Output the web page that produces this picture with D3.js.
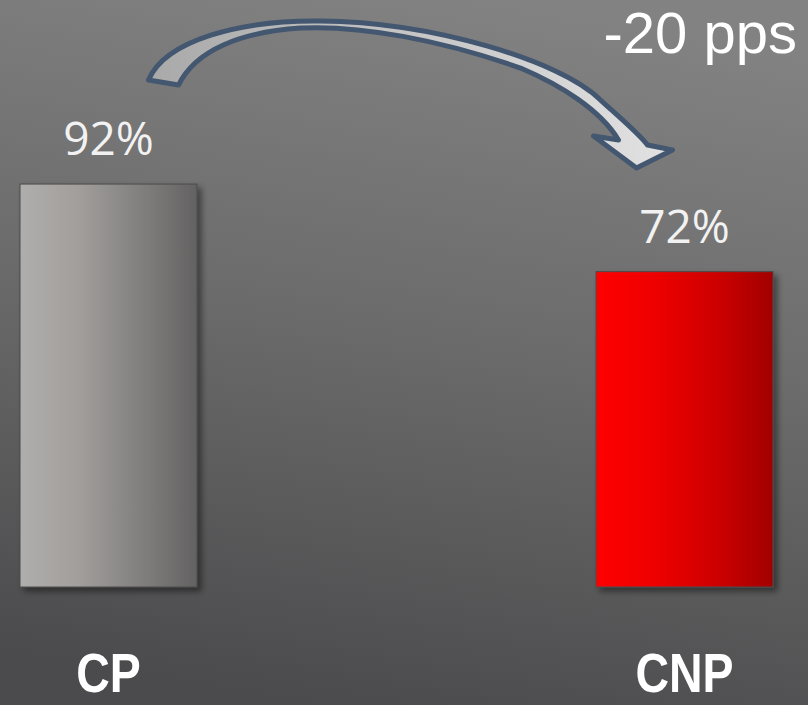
<!DOCTYPE html>
<html>
<head>
<meta charset="utf-8">
<script src="https://cdn.jsdelivr.net/npm/d3@7"></script>
<style>
  html, body { margin: 0; padding: 0; background: #666; }
  svg { display: block; }
</style>
</head>
<body>
<svg id="mount" width="808" height="705"></svg>
<script>
var categories = ["CP", "CNP"];
var values = [92, 72];
var valueLabels = ["92%", "72%"];
var changeUnit = "pps";

var barGradients = [
  ["#b0aeac", "#a19e9c", "#838180", "#636262"],
  ["#ff0000", "#ee0000", "#cf0000", "#a20000"]
];

var svg = d3.select("#mount");
var width = 808;
var height = 705;

var defs = svg.append("defs");

// Background gradient
var bg = defs.append("linearGradient")
  .attr("id", "bg")
  .attr("x1", "0.6").attr("y1", "0")
  .attr("x2", "0.4").attr("y2", "1");
bg.append("stop").attr("offset", "0").attr("stop-color", "#828282");
bg.append("stop").attr("offset", "0.45").attr("stop-color", "#6c6c6c");
bg.append("stop").attr("offset", "1").attr("stop-color", "#4b4b4d");

// Bar gradients
barGradients.forEach(function(stops, i) {
  var g = defs.append("linearGradient")
    .attr("id", "bar" + i)
    .attr("x1", "0").attr("y1", "0")
    .attr("x2", "1").attr("y2", "0");
  stops.forEach(function(c, j) {
    g.append("stop")
      .attr("offset", j / (stops.length - 1))
      .attr("stop-color", c);
  });
});

// Arrow fill
var ag = defs.append("linearGradient")
  .attr("id", "arrowFill")
  .attr("x1", "0").attr("y1", "0")
  .attr("x2", "1").attr("y2", "0");
ag.append("stop").attr("offset", "0").attr("stop-color", "#a9a9a9");
ag.append("stop").attr("offset", "1").attr("stop-color", "#e2e2e2");

// Drop shadow
var f = defs.append("filter")
  .attr("id", "shadow")
  .attr("x", "-10%").attr("y", "-10%")
  .attr("width", "130%").attr("height", "130%");
f.append("feDropShadow")
  .attr("dx", 4).attr("dy", 4)
  .attr("stdDeviation", 3)
  .attr("flood-color", "#000")
  .attr("flood-opacity", 0.45);

svg.append("rect")
  .attr("width", width)
  .attr("height", height)
  .attr("fill", "url(#bg)");

// Scales
var x = d3.scaleBand()
  .domain(categories)
  .range([20, 773])
  .paddingInner(0.6927)
  .paddingOuter(0);

var y = d3.scaleLinear()
  .domain([0, 100])
  .range([587, 149]);

// Bars
svg.append("g")
  .selectAll("rect")
  .data(values)
  .join("rect")
  .attr("x", function(d, i) { return x(categories[i]); })
  .attr("y", function(d) { return y(d); })
  .attr("width", x.bandwidth())
  .attr("height", function(d) { return y(0) - y(d); })
  .attr("fill", function(d, i) { return "url(#bar" + i + ")"; })
  .attr("stroke", "#4a4a4a")
  .attr("stroke-width", 1)
  .attr("filter", "url(#shadow)");

// Value labels
svg.append("g")
  .selectAll("text")
  .data(values)
  .join("text")
  .attr("x", function(d, i) { return x(categories[i]) + x.bandwidth() / 2; })
  .attr("y", function(d) { return y(d) - 29; })
  .attr("text-anchor", "middle")
  .attr("fill", "#f2f2f2")
  .style("font-family", "'Open Sans', sans-serif")
  .style("font-size", "46px")
  .text(function(d, i) { return valueLabels[i]; });

// Category labels (squeezed horizontally, the reference face is condensed)
var sx = 0.83;
svg.append("g")
  .selectAll("text")
  .data(categories)
  .join("text")
  .attr("transform", function(d) {
    return "translate(" + (x(d) + x.bandwidth() / 2) + ",692) scale(" + sx + ",1)";
  })
  .attr("text-anchor", "middle")
  .attr("fill", "#ffffff")
  .style("font-family", "'Liberation Sans', Arial, sans-serif")
  .style("font-weight", "bold")
  .style("font-size", "56px")
  .text(function(d) { return d; });

// Curved arrow from first bar to second, drawn relative to the first label
var ax = x(categories[0]) + x.bandwidth() / 2;
var ay = y(values[0]);
svg.append("path")
  .attr("transform", "translate(" + ax + "," + ay + ")")
  .attr("d",
    "M40,-104 C57,-144 132,-164 212,-163 C322,-162 452,-124 492,-84 " +
    "C512,-66 532,-49 539,-39 L564,-34 L528,-16 L485,-48 L510,-44 " +
    "C492,-74 452,-99 412,-116 C332,-144 252,-159 192,-156 " +
    "C132,-152 87,-134 70,-99 Z")
  .attr("fill", "url(#arrowFill)")
  .attr("stroke", "#445770")
  .attr("stroke-width", 5)
  .attr("stroke-linejoin", "round");

// Change annotation
svg.append("text")
  .attr("x", 797)
  .attr("y", 53)
  .attr("text-anchor", "end")
  .attr("fill", "#ffffff")
  .style("font-family", "'Liberation Sans', Arial, sans-serif")
  .style("font-size", "58px")
  .text((values[1] - values[0]) + " " + changeUnit);
</script>
</body>
</html>
